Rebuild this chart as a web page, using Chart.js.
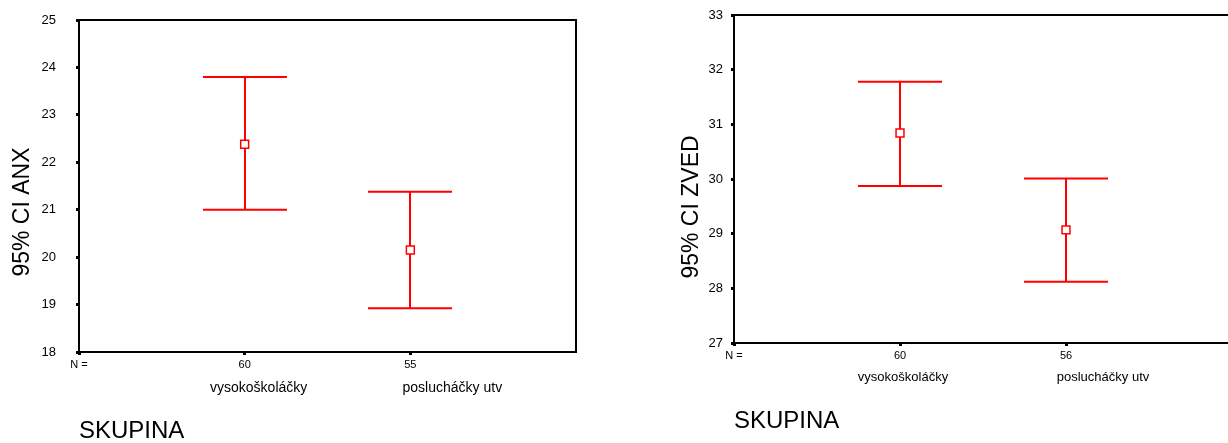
<!DOCTYPE html>
<html>
<head>
<meta charset="utf-8">
<script src="https://cdn.jsdelivr.net/npm/chart.js@4.4.1/dist/chart.umd.min.js"></script>
<style>
  html, body { margin: 0; padding: 0; background: #fff; overflow: hidden; width: 1228px; height: 443px; }
  canvas { position: absolute; }
  #anxChart { left: 0; top: -8px; }
  #zvedChart { left: 620px; top: -1px; }
</style>
</head>
<body>
<canvas id="anxChart" width="610" height="451"></canvas>
<canvas id="zvedChart" width="620" height="444"></canvas>
<script>
// skupiny
const groups = ['vysokoškoláčky', 'poslucháčky utv'];

// ANX - 95% CI
const anxN = [60, 55];
const anxMean = [22.38, 20.15];
const anxLower = [21.0, 18.92];
const anxUpper = [23.8, 21.38];
const anxTicks = [18, 19, 20, 21, 22, 23, 24, 25];

// ZVED - 95% CI
const zvedN = [60, 56];
const zvedMean = [30.84, 29.07];
const zvedLower = [29.87, 28.12];
const zvedUpper = [31.78, 30.01];
const zvedTicks = [27, 28, 29, 30, 31, 32, 33];

const FONT = "'Liberation Sans', Arial, sans-serif";
const RED = '#ff0000';

Chart.defaults.font.family = FONT;
Chart.defaults.color = '#000';

// intervaly + ramecek + popisky skupin (SPSS styl)
const spssPlugin = {
  id: 'spss',
  beforeDatasetsDraw(chart, args, opts) {
    const { ctx, chartArea } = chart;
    const x = chart.scales.x;
    const y = chart.scales.y;

    ctx.save();
    ctx.strokeStyle = '#000';
    ctx.lineWidth = 2;
    ctx.strokeRect(chartArea.left, chartArea.top, chartArea.right - chartArea.left, chartArea.bottom - chartArea.top);

    ctx.strokeStyle = RED;
    ctx.lineWidth = 2;
    opts.lower.forEach((lo, i) => {
      const px = Math.round(x.getPixelForValue(i + 1));
      const yLo = y.getPixelForValue(lo);
      const yHi = y.getPixelForValue(opts.upper[i]);
      ctx.beginPath();
      ctx.moveTo(px, yHi);
      ctx.lineTo(px, yLo);
      ctx.moveTo(px - opts.capHalf, yHi);
      ctx.lineTo(px + opts.capHalf, yHi);
      ctx.moveTo(px - opts.capHalf, yLo);
      ctx.lineTo(px + opts.capHalf, yLo);
      ctx.stroke();
    });
    ctx.restore();
  },
  afterDraw(chart, args, opts) {
    const { ctx, chartArea } = chart;
    const x = chart.scales.x;
    ctx.save();
    ctx.fillStyle = '#000';

    // popisky skupin pod osou
    ctx.font = opts.catSize + 'px ' + FONT;
    ctx.textAlign = 'center';
    ctx.textBaseline = 'middle';
    opts.categories.forEach((name, i) => {
      ctx.fillText(name, x.getPixelForValue(i + 1) + opts.catShift[i], chartArea.bottom + opts.catDy);
    });

    // nazev osy y
    ctx.translate(chartArea.left - opts.titleDx, (chartArea.top + chartArea.bottom) / 2 + opts.titleDy);
    ctx.rotate(-Math.PI / 2);
    ctx.font = opts.titleSize + 'px ' + FONT;
    ctx.fillText(opts.yTitle, 0, 0);
    ctx.restore();
  },
};

function makeChart(id, cfg) {
  const nLabels = ['N =', ...cfg.n.map(String)];
  return new Chart(id, {
    type: 'scatter',
    data: {
      datasets: [
        {
          data: cfg.mean.map((m, i) => ({ x: i + 1, y: m })),
          pointStyle: 'rect',
          pointRadius: 5.6,
          pointBorderWidth: 1.5,
          borderColor: RED,
          backgroundColor: '#fff',
        },
      ],
    },
    options: {
      responsive: false,
      animation: false,
      events: [],
      layout: { padding: cfg.padding },
      plugins: {
        legend: { display: false },
        tooltip: { enabled: false },
        spss: {
          lower: cfg.lower,
          upper: cfg.upper,
          capHalf: 42,
          categories: groups,
          catShift: cfg.catShift,
          catDy: cfg.catDy,
          catSize: cfg.catSize,
          yTitle: cfg.yTitle,
          titleDx: cfg.titleDx,
          titleDy: cfg.titleDy,
          titleSize: 23,
        },
      },
      scales: {
        x: {
          type: 'linear',
          min: 0,
          max: 3,
          afterBuildTicks: (s) => {
            s.ticks = [0, 1, 2].map((v) => ({ value: v }));
          },
          afterFit: (s) => {
            s.height = cfg.xHeight;
          },
          ticks: {
            autoSkip: false,
            maxRotation: 0,
            padding: 3,
            font: { size: 11 },
            callback: (v) => nLabels[v],
          },
          grid: { drawOnChartArea: false, drawTicks: true, tickLength: 3, tickWidth: 3, color: '#000' },
          border: { color: '#000', width: 2 },
          title: {
            display: true,
            text: 'SKUPINA',
            align: 'start',
            font: { size: 24, lineHeight: 1 },
            padding: { top: 0, bottom: cfg.skupinaPad },
          },
        },
        y: {
          min: cfg.ticks[0],
          max: cfg.ticks[cfg.ticks.length - 1],
          afterBuildTicks: (s) => {
            s.ticks = cfg.ticks.map((v) => ({ value: v }));
          },
          afterFit: (s) => {
            s.width = cfg.yWidth;
          },
          ticks: { padding: cfg.tickPad, font: { size: 13 } },
          grid: { drawOnChartArea: false, drawTicks: true, tickLength: 3, tickWidth: 3, color: '#000' },
          border: { color: '#000', width: 2 },
        },
      },
    },
    plugins: [spssPlugin],
  });
}

makeChart('anxChart', {
  n: anxN,
  mean: anxMean,
  lower: anxLower,
  upper: anxUpper,
  ticks: anxTicks,
  yTitle: '95% CI ANX',
  padding: { top: 28, right: 34, bottom: 0, left: 0 },
  xHeight: 91,
  yWidth: 79,
  tickPad: 20,
  catShift: [14, 42],
  catDy: 36,
  catSize: 14,
  titleDx: 56,
  titleDy: 26,
  skupinaPad: 0,
});

makeChart('zvedChart', {
  n: zvedN,
  mean: zvedMean,
  lower: zvedLower,
  upper: zvedUpper,
  ticks: zvedTicks,
  yTitle: '95% CI ZVED',
  padding: { top: 16, right: 8, bottom: 0, left: 0 },
  xHeight: 100,
  yWidth: 114,
  tickPad: 8,
  catShift: [3, 37],
  catDy: 34,
  catSize: 13,
  titleDx: 42,
  titleDy: 28,
  skupinaPad: 10,
});
</script>
</body>
</html>
